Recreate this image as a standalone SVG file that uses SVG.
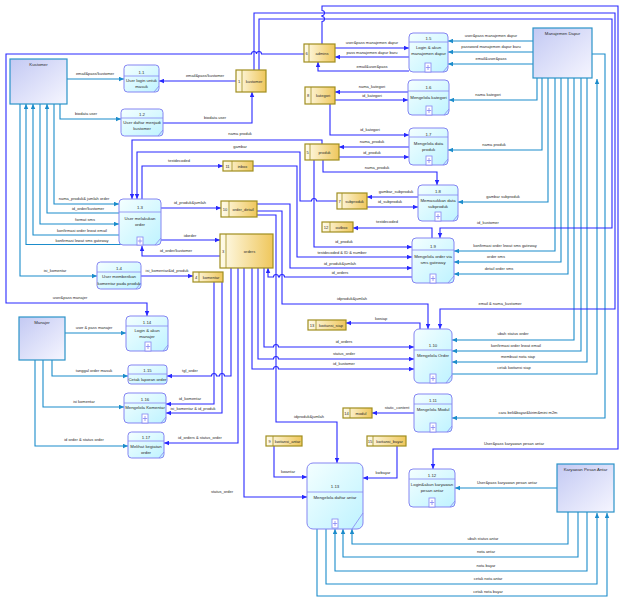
<svg xmlns="http://www.w3.org/2000/svg" width="619" height="598" viewBox="0 0 619 598">
<defs>
<linearGradient id="pg" x1="0" y1="0" x2="1" y2="1"><stop offset="0" stop-color="#f4ffff"/><stop offset="1" stop-color="#bff3ff"/></linearGradient>
<linearGradient id="eg" x1="0" y1="0" x2="1" y2="1"><stop offset="0" stop-color="#c3c9f3"/><stop offset="1" stop-color="#f6f6ff"/></linearGradient>
<linearGradient id="dg" x1="0" y1="0" x2="1" y2="0"><stop offset="0" stop-color="#fffcec"/><stop offset="1" stop-color="#efc75c"/></linearGradient>
<marker id="ab" viewBox="0 0 10 10" refX="10" refY="5" markerWidth="5" markerHeight="5" orient="auto" markerUnits="userSpaceOnUse"><path d="M0,0.5 L10,5 L0,9.5 z" fill="#2828ff"/></marker>
<marker id="at" viewBox="0 0 10 10" refX="10" refY="5" markerWidth="5" markerHeight="5" orient="auto" markerUnits="userSpaceOnUse"><path d="M0,0.5 L10,5 L0,9.5 z" fill="#1b8ccb"/></marker>
</defs>
<style>
text{font-family:"Liberation Sans",Arial,sans-serif;fill:#2a2a2a;text-anchor:middle}
.l{font-size:4px}
.pt{font-size:4.3px}
.b{fill:none;stroke:#2828ff;stroke-width:1.1;marker-end:url(#ab)}
.t{fill:none;stroke:#1b8ccb;stroke-width:1.1;marker-end:url(#at)}
.pr{fill:url(#pg);stroke:#8585f2;stroke-width:1}
.pl{fill:none;stroke:#8585f2;stroke-width:0.8}
.px{fill:#ffffff;stroke:#8585f2;stroke-width:0.8}
.en{fill:url(#eg);stroke:#2b93c9;stroke-width:1.2}
.ds{fill:url(#dg);stroke:#a08e1e;stroke-width:1.2}
.dl{stroke:#a08e1e;stroke-width:0.8}
</style>
<rect width="619" height="598" fill="#ffffff"/>

<g id="connectors">
<!-- Kustomer entity flows -->
<path class="t" d="M67,79 H124"/><text class="l" x="95" y="75">email&amp;pass/kustomer</text>
<path class="t" d="M60,104 V119 H121"/><text class="l" x="86" y="115">biodata user</text>
<path class="t" d="M54,104 V204 H119"/><text class="l" x="84" y="200">nama_produk&amp; jumlah order</text>
<path class="t" d="M119,213 H47 V104"/><text class="l" x="88" y="210">id_order/kustomer</text>
<path class="t" d="M40,104 V224 H119"/><text class="l" x="85" y="221">format sms</text>
<path class="t" d="M120,235 H33 V104"/><text class="l" x="82" y="232">konfirmasi order lewat email</text>
<path class="t" d="M121,244.5 H26 V104"/><text class="l" x="82" y="242">konfirmasi lewat sms gateway</text>
<path class="t" d="M20,104 V276 H97"/><text class="l" x="55" y="272">isi_komentar</text>
<!-- Manajer flows -->
<path class="t" d="M65,333 H126"/><text class="l" x="94" y="329">user &amp; pass manajer</text>
<path class="t" d="M52,360 V376 H128"/><text class="l" x="94" y="372">tanggal order masuk</text>
<path class="t" d="M43,360 V407 H124"/><text class="l" x="84" y="403">isi komentar</text>
<path class="t" d="M35,360 V446 H128"/><text class="l" x="84" y="441">id order &amp; status order</text>
<!-- Manajemen Dapur flows -->
<path class="t" d="M533,41 H448"/><text class="l" x="491" y="37">user&amp;pass manajemen dapur</text>
<path class="t" d="M533,52 H448"/><text class="l" x="491" y="48">password manajemen dapur baru</text>
<path class="t" d="M533,64 H448"/><text class="l" x="491" y="60">email&amp;user&amp;pass</text>
<path class="t" d="M537,78 V100 H449"/><text class="l" x="488" y="96">nama kategori</text>
<path class="t" d="M542,78 V150 H448"/><text class="l" x="494" y="146">nama produk</text>
<path class="t" d="M548,78 V202 H458"/><text class="l" x="503" y="198">gambar subproduk</text>
<path class="t" d="M555,78 V251 H454"/><text class="l" x="505" y="247">konfirmasi order lewat sms gateway</text>
<path class="t" d="M561,78 V262 H454"/><text class="l" x="496" y="258">order sms</text>
<path class="t" d="M568,78 V274 H454"/><text class="l" x="499" y="270">detail order sms</text>
<path class="t" d="M574,78 V340 H452"/><text class="l" x="513" y="335">ubah status order</text>
<path class="t" d="M581,78 V351 H452"/><text class="l" x="516" y="347">konfirmasi order lewat email</text>
<path class="t" d="M587,78 V362 H452"/><text class="l" x="518" y="358">membuat nota siap</text>
<path class="t" d="M450,374 H597 V79"/><text class="l" x="514" y="369">cetak kwitansi siap</text>
<path class="t" d="M592,54 H605 V418 H452"/><text class="l" x="528" y="414">cara beli&amp;bayar&amp;kirim&amp;mini m2m</text>
<!-- Karyawan Pesan Antar flows -->
<path class="t" d="M557,488 H455"/><text class="l" x="507" y="484">User&amp;pass karyawan pesan antar</text>
<path class="t" d="M568,512 V544 H352 V529"/><text class="l" x="483" y="540">ubah status antar</text>
<path class="t" d="M578,512 V557 H343 V529"/><text class="l" x="486" y="553">nota antar</text>
<path class="t" d="M587,512 V571 H335 V529"/><text class="l" x="486" y="567">nota bayar</text>
<path class="t" d="M326,529 V584 H597 V513"/><text class="l" x="488" y="580">cetak nota antar</text>
<path class="t" d="M317,529 V596 H607 V513"/><text class="l" x="488" y="593">cetak nota bayar</text>
<!-- data store flows -->
<path class="b" d="M236,81 H159"/><text class="l" x="205" y="77">email&amp;pass/kustomer</text>
<path class="b" d="M163,123 H252 V92"/><text class="l" x="215" y="119">biodata user</text>
<path class="b" d="M304,54 H261.5 A2.5,2.5 0 0 0 256.5,54 A2.5,2.5 0 0 0 251.5,54 H6 V303 H147 V316"/><text class="l" x="70" y="299">user&amp;pass manajer</text>
<path class="b" d="M259,70 V19 H612 V228 H440 V238"/><text class="l" x="488" y="224">id_kustomer</text>
<path class="b" d="M254,70 V13 H615 V309 H440 V329"/><text class="l" x="500" y="305">email &amp; nama_kustomer</text>
<path class="b" d="M322,44 V21.5 A2.5,2.5 0 0 0 322,16.5 V15.5 A2.5,2.5 0 0 0 322,10.5 V6 H618 V449 H433 V469"/><text class="l" x="514" y="445">User&amp;pass karyawan pesan antar</text>
<path class="b" d="M335,48 H409"/><text class="l" x="372" y="44">user&amp;pass manajemen dapur</text>
<path class="b" d="M409,57 H335"/><text class="l" x="372" y="53.5">pass manajemen dapur baru</text>
<path class="b" d="M409,71 H318 V62"/><text class="l" x="372" y="67.5">email&amp;user&amp;pass</text>
<path class="b" d="M408,92 H335"/><text class="l" x="372" y="88">nama_kategori</text>
<path class="b" d="M335,100 H408"/><text class="l" x="372" y="97">id_kategori</text>
<path class="b" d="M330,104 V135 H409"/><text class="l" x="370" y="131">id_kategori</text>
<path class="b" d="M409,147 H339"/><text class="l" x="372" y="143">nama_produk</text>
<path class="b" d="M339,157 H409"/><text class="l" x="372" y="154">id_produk</text>
<path class="b" d="M323,160 V172 H437 V185"/><text class="l" x="377" y="169">nama_produk</text>
<path class="b" d="M322,144 V140 H132 V199"/><text class="l" x="240" y="135">nama produk</text>
<path class="b" d="M337,201 H316.5 A2.5,2.5 0 0 0 311.5,201 H300 V152 H137 V199"/><text class="l" x="240" y="148">gambar</text>
<path class="b" d="M142,199 V166 H223"/><text class="l" x="179" y="162">testdecoded</text>
<path class="b" d="M253,166 H297 V257 H412"/><text class="l" x="342" y="254">testdecoded &amp; ID &amp; number</text>
<path class="b" d="M314,160 V247 H412"/><text class="l" x="344" y="243">id_produk</text>
<path class="b" d="M161,208 H221"/><text class="l" x="190" y="204">id_produk&amp;jumlah</text>
<path class="b" d="M257,204 H290 V268 H412"/><text class="l" x="340" y="265">id_produk&amp;jumlah</text>
<path class="b" d="M161,240 H220"/><text class="l" x="190" y="237">idorder</text>
<path class="b" d="M220,256 H142 V246"/><text class="l" x="176" y="252">id_order/kustomer</text>
<path class="b" d="M141,276 H193"/><text class="l" x="167" y="272">isi_komentar&amp;id_produk</text>
<path class="b" d="M412,277 H284.5 A2.5,2.5 0 0 0 279.5,277 H278.5 A2.5,2.5 0 0 0 273.5,277 H268 V268"/><text class="l" x="340" y="274">id_orders</text>
<path class="b" d="M432,238 V228 H353"/><text class="l" x="387" y="223">testdecoded</text>
<path class="b" d="M418,197 H367"/><text class="l" x="396" y="192.5">gambar_subproduk</text>
<path class="b" d="M367,207 H418"/><text class="l" x="390" y="203">id_subproduk</text>
<path class="b" d="M231,268 V376 H224.5 A2.5,2.5 0 0 0 219.5,376 H216.5 A2.5,2.5 0 0 0 211.5,376 H167"/><text class="l" x="190" y="372">tgl_order</text>
<path class="b" d="M214,282 V404 H166"/><text class="l" x="190" y="400">id_komentar</text>
<path class="b" d="M222,282 V413 H166"/><text class="l" x="193" y="409.5">isi_komentar &amp; id_produk</text>
<path class="b" d="M238,268 V443 H164"/><text class="l" x="200" y="439">id_orders &amp; status_order</text>
<path class="b" d="M264,268 V347 H273.5 A2.5,2.5 0 0 1 278.5,347 H414"/><text class="l" x="344" y="343">id_orders</text>
<path class="b" d="M258,268 V359 H273.5 A2.5,2.5 0 0 1 278.5,359 H414"/><text class="l" x="344" y="355">status_order</text>
<path class="b" d="M252,268 V369 H273.5 A2.5,2.5 0 0 1 278.5,369 H414"/><text class="l" x="344" y="365">id_kustomer</text>
<path class="b" d="M257,211 H282 V304 H428 V329"/><text class="l" x="352" y="300">idproduk&amp;jumlah</text>
<path class="b" d="M257,215 H276 V422 H337 V463"/><text class="l" x="309" y="418">idproduk&amp;jumlah</text>
<path class="b" d="M244,268 V497 H307"/><text class="l" x="222" y="493">status_order</text>
<path class="b" d="M274,446 V477 H307"/><text class="l" x="288" y="473">kwantar</text>
<path class="b" d="M397,446 V478 H363"/><text class="l" x="383" y="474">kwbayar</text>
<path class="b" d="M420,329 V323 H346"/><text class="l" x="381" y="319.5">kwsiap</text>
<path class="b" d="M414,413 H372"/><text class="l" x="397" y="409">static_content</text>
</g>

<!-- External entities -->
<g id="kustomer"><rect class="en" x="10" y="59" width="57" height="45"/><text class="pt" x="38.5" y="66">Kustomer</text></g>
<g id="manajemen_dapur"><rect class="en" x="533" y="28" width="59" height="50"/><text class="pt" x="562.5" y="35">Manajemen Dapur</text></g>
<g id="manajer"><rect class="en" x="19" y="317" width="46" height="43"/><text class="pt" x="42" y="324">Manajer</text></g>
<g id="karyawan_pesan_antar"><rect class="en" x="557" y="464" width="57" height="48"/><text class="pt" x="585.5" y="471">Karyawan Pesan Antar</text></g>

<!-- Processes -->
<g id="p1_1"><rect class="pr" x="124" y="65" width="35" height="27" rx="3.5"/><line class="pl" x1="124" y1="76" x2="159" y2="76"/><line class="pl" x1="154" y1="92" x2="159" y2="86"/><text class="pt" x="141.5" y="74">1.1</text><text class="pt" x="141.5" y="82">User login untuk</text><text class="pt" x="141.5" y="88">masuk</text></g>
<g id="p1_2"><rect class="pr" x="121" y="109" width="42" height="27" rx="3.5"/><line class="pl" x1="121" y1="118" x2="163" y2="118"/><line class="pl" x1="158" y1="136" x2="163" y2="130"/><text class="pt" x="142" y="116">1.2</text><text class="pt" x="142" y="124">User daftar menjadi</text><text class="pt" x="142" y="130">kustomer</text></g>
<g id="p1_3"><rect class="pr" x="119" y="199" width="42" height="46" rx="4"/><line class="pl" x1="119" y1="212" x2="161" y2="212"/><line class="pl" x1="155" y1="245" x2="161" y2="238"/><rect class="px" x="137" y="237" width="6" height="8"/><path class="pl" d="M140,238.5 V243.5 M137.8,241 H142.2"/><text class="pt" x="140" y="209">1.3</text><text class="pt" x="140" y="219.5">User melakukan</text><text class="pt" x="140" y="225.5">order</text></g>
<g id="p1_4"><rect class="pr" x="97" y="262" width="44" height="27" rx="3.5"/><line class="pl" x1="97" y1="272" x2="141" y2="272"/><line class="pl" x1="136" y1="289" x2="141" y2="283"/><text class="pt" x="119" y="270">1.4</text><text class="pt" x="119" y="278">User memberikan</text><text class="pt" x="119" y="285">komentar pada produk</text></g>
<g id="p1_5"><rect class="pr" x="409" y="33" width="39" height="39" rx="4"/><line class="pl" x1="409" y1="42" x2="448" y2="42"/><line class="pl" x1="443" y1="72" x2="448" y2="66"/><rect class="px" x="425" y="63" width="6" height="9"/><path class="pl" d="M428,65 V70 M425.8,67.5 H430.2"/><text class="pt" x="428.5" y="40">1.5</text><text class="pt" x="428.5" y="49">Login &amp; akun</text><text class="pt" x="428.5" y="55">manajemen dapur</text></g>
<g id="p1_6"><rect class="pr" x="408" y="80" width="41" height="35" rx="4"/><line class="pl" x1="408" y1="91" x2="449" y2="91"/><line class="pl" x1="444" y1="115" x2="449" y2="109"/><rect class="px" x="426" y="106" width="6" height="9"/><path class="pl" d="M429,108 V113 M426.8,110.5 H431.2"/><text class="pt" x="428.5" y="89">1.6</text><text class="pt" x="428.5" y="99">Mengelola kategori</text></g>
<g id="p1_7"><rect class="pr" x="409" y="128" width="39" height="37" rx="4"/><line class="pl" x1="409" y1="137" x2="448" y2="137"/><line class="pl" x1="443" y1="165" x2="448" y2="159"/><rect class="px" x="426" y="156" width="6" height="9"/><path class="pl" d="M429,158 V163 M426.8,160.5 H431.2"/><text class="pt" x="428.5" y="135.5">1.7</text><text class="pt" x="428.5" y="145">Mengelola data</text><text class="pt" x="428.5" y="151">produk</text></g>
<g id="p1_8"><rect class="pr" x="418" y="185" width="40" height="36" rx="4"/><line class="pl" x1="418" y1="195" x2="458" y2="195"/><line class="pl" x1="453" y1="221" x2="458" y2="215"/><rect class="px" x="435" y="212" width="6" height="9"/><path class="pl" d="M438,214 V219 M435.8,216.5 H440.2"/><text class="pt" x="438" y="193">1.8</text><text class="pt" x="438" y="202">Memasukkan data</text><text class="pt" x="438" y="208">subproduk</text></g>
<g id="p1_9"><rect class="pr" x="412" y="238" width="42" height="45" rx="4"/><line class="pl" x1="412" y1="250" x2="454" y2="250"/><line class="pl" x1="448" y1="283" x2="454" y2="276"/><rect class="px" x="430" y="274" width="6" height="9"/><path class="pl" d="M433,276 V281 M430.8,278.5 H435.2"/><text class="pt" x="433" y="248">1.9</text><text class="pt" x="433" y="258">Mengelola order via</text><text class="pt" x="433" y="264">sms gateway</text></g>
<g id="p1_10"><rect class="pr" x="414" y="329" width="38" height="54" rx="5"/><line class="pl" x1="414" y1="350" x2="452" y2="350"/><line class="pl" x1="446" y1="383" x2="452" y2="375"/><rect class="px" x="430" y="374" width="6" height="9"/><path class="pl" d="M433,376 V381 M430.8,378.5 H435.2"/><text class="pt" x="433" y="347">1.10</text><text class="pt" x="433" y="357">Mengelola Order</text></g>
<g id="p1_11"><rect class="pr" x="414" y="394" width="38" height="38" rx="4"/><line class="pl" x1="414" y1="404" x2="452" y2="404"/><line class="pl" x1="447" y1="432" x2="452" y2="426"/><rect class="px" x="430" y="423" width="6" height="9"/><path class="pl" d="M433,425 V430 M430.8,427.5 H435.2"/><text class="pt" x="433" y="402">1.11</text><text class="pt" x="433" y="411">Mengelola Modul</text></g>
<g id="p1_12"><rect class="pr" x="409" y="469" width="46" height="38" rx="4"/><line class="pl" x1="409" y1="479" x2="455" y2="479"/><line class="pl" x1="450" y1="507" x2="455" y2="501"/><rect class="px" x="429" y="498" width="6" height="9"/><path class="pl" d="M432,500 V505 M429.8,502.5 H434.2"/><text class="pt" x="432" y="477">1.12</text><text class="pt" x="432" y="486">Login&amp;akun karyawan</text><text class="pt" x="432" y="492">pesan antar</text></g>
<g id="p1_13"><rect class="pr" x="307" y="463" width="56" height="66" rx="6"/><line class="pl" x1="307" y1="492" x2="363" y2="492"/><line class="pl" x1="352" y1="529" x2="363" y2="513"/><rect class="px" x="332" y="519" width="6" height="9"/><path class="pl" d="M335,521 V526 M332.8,523.5 H337.2"/><text class="pt" x="335" y="488">1.13</text><text class="pt" x="335" y="498.5">Mengelola daftar antar</text></g>
<g id="p1_14"><rect class="pr" x="126" y="316" width="42" height="35" rx="4"/><line class="pl" x1="126" y1="326" x2="168" y2="326"/><line class="pl" x1="163" y1="351" x2="168" y2="345"/><rect class="px" x="145" y="342" width="6" height="9"/><path class="pl" d="M148,344 V349 M145.8,346.5 H150.2"/><text class="pt" x="147" y="323.5">1.14</text><text class="pt" x="147" y="332">Login &amp; akun</text><text class="pt" x="147" y="338">manajer</text></g>
<g id="p1_15"><rect class="pr" x="128" y="365" width="39" height="19" rx="3"/><line class="pl" x1="128" y1="374" x2="167" y2="374"/><text class="pt" x="147.5" y="372">1.15</text><text class="pt" x="147.5" y="380.5">Cetak laporan order</text></g>
<g id="p1_16"><rect class="pr" x="124" y="393" width="42" height="30" rx="4"/><line class="pl" x1="124" y1="403" x2="166" y2="403"/><line class="pl" x1="161" y1="423" x2="166" y2="417"/><rect class="px" x="142" y="414" width="6" height="9"/><path class="pl" d="M145,416 V421 M142.8,418.5 H147.2"/><text class="pt" x="145" y="401">1.16</text><text class="pt" x="145" y="409">Mengelola Komentar</text></g>
<g id="p1_17"><rect class="pr" x="128" y="432" width="36" height="26" rx="3.5"/><line class="pl" x1="128" y1="441" x2="164" y2="441"/><line class="pl" x1="159" y1="458" x2="164" y2="452"/><text class="pt" x="146" y="439">1.17</text><text class="pt" x="146" y="447.5">Melihat kegiatan</text><text class="pt" x="146" y="453.5">order</text></g>

<!-- Data stores -->
<g id="ds1"><rect class="ds" x="236" y="70" width="30" height="22"/><line class="dl" x1="242" y1="70" x2="242" y2="92"/><text class="l" x="239" y="82.5">1</text><text class="l" x="254" y="82.5">kustomer</text></g>
<g id="ds6"><rect class="ds" x="304" y="44" width="31" height="18"/><line class="dl" x1="309" y1="44" x2="309" y2="62"/><text class="l" x="306.5" y="54.5">6</text><text class="l" x="322" y="54.5">admins</text></g>
<g id="ds8"><rect class="ds" x="305" y="87" width="30" height="17"/><line class="dl" x1="311" y1="87" x2="311" y2="104"/><text class="l" x="308" y="97">8</text><text class="l" x="323" y="97">kategori</text></g>
<g id="ds5"><rect class="ds" x="305" y="144" width="34" height="16"/><line class="dl" x1="310" y1="144" x2="310" y2="160"/><text class="l" x="307.5" y="153.5">5</text><text class="l" x="324.5" y="153.5">produk</text></g>
<g id="ds11"><rect class="ds" x="223" y="161" width="30" height="10"/><line class="dl" x1="232" y1="161" x2="232" y2="171"/><text class="l" x="227.5" y="167.5">11</text><text class="l" x="242.5" y="167.5">inbox</text></g>
<g id="ds7"><rect class="ds" x="337" y="193" width="30" height="16"/><line class="dl" x1="342" y1="193" x2="342" y2="209"/><text class="l" x="339.5" y="202.5">7</text><text class="l" x="354.5" y="202.5">subproduk</text></g>
<g id="ds10"><rect class="ds" x="221" y="201" width="36" height="16"/><line class="dl" x1="229" y1="201" x2="229" y2="217"/><text class="l" x="225" y="210.5">10</text><text class="l" x="243" y="210.5">order_detail</text></g>
<g id="ds12"><rect class="ds" x="322" y="222" width="31" height="10"/><line class="dl" x1="330" y1="222" x2="330" y2="232"/><text class="l" x="326" y="228.5">12</text><text class="l" x="341.5" y="228.5">outbox</text></g>
<g id="ds3"><rect class="ds" x="220" y="234" width="53" height="34"/><line class="dl" x1="226" y1="234" x2="226" y2="268"/><text class="l" x="223" y="252.5">3</text><text class="l" x="249.5" y="252.5">orders</text></g>
<g id="ds4"><rect class="ds" x="193" y="272" width="30" height="10"/><line class="dl" x1="199" y1="272" x2="199" y2="282"/><text class="l" x="196" y="278.5">4</text><text class="l" x="211" y="278.5">komentar</text></g>
<g id="ds13"><rect class="ds" x="308" y="320" width="38" height="10"/><line class="dl" x1="316" y1="320" x2="316" y2="330"/><text class="l" x="312" y="326.5">13</text><text class="l" x="331" y="326.5">kwitansi_siap</text></g>
<g id="ds14"><rect class="ds" x="343" y="408" width="29" height="10"/><line class="dl" x1="350" y1="408" x2="350" y2="418"/><text class="l" x="346.5" y="414.5">14</text><text class="l" x="361" y="414.5">modul</text></g>
<g id="ds9"><rect class="ds" x="266" y="436" width="36" height="10"/><line class="dl" x1="273" y1="436" x2="273" y2="446"/><text class="l" x="269.5" y="442.5">9</text><text class="l" x="287.5" y="442.5">kwitansi_antar</text></g>
<g id="ds15"><rect class="ds" x="367" y="436" width="39" height="10"/><line class="dl" x1="373" y1="436" x2="373" y2="446"/><text class="l" x="370" y="442.5">15</text><text class="l" x="389.5" y="442.5">kwitansi_bayar</text></g>
</svg>
